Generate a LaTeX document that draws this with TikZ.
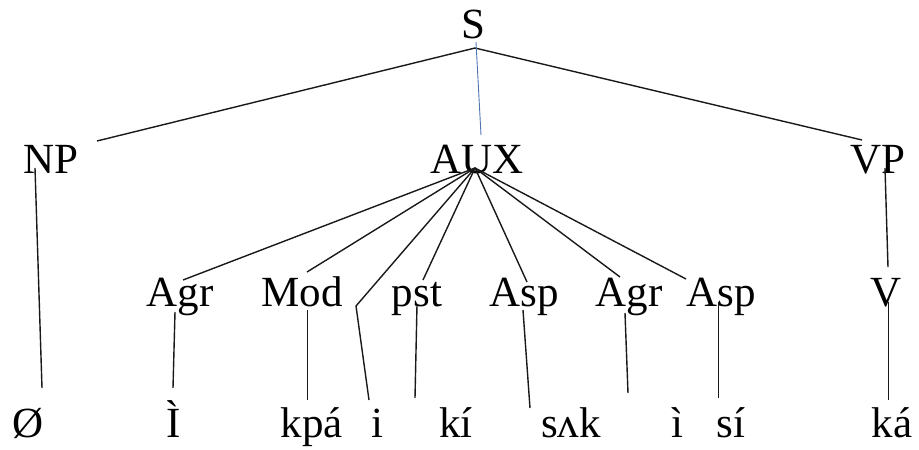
\documentclass[tikz,border=0pt]{standalone}
\usepackage{fontspec}
\setmainfont{Liberation Serif}
\definecolor{linkblue}{HTML}{4F74B0}
\tikzset{
  lbl/.style={anchor=base, inner sep=0pt, font=\fontsize{43}{50}\selectfont},
  branch/.style={line width=1.4pt, black!90},
  thinbranch/.style={line width=0.9pt, linkblue}
}
\begin{document}
\begin{tikzpicture}[x=1pt,y=-1pt]
\useasboundingbox (0,0) rectangle (919,450);

% category labels
\node[lbl] (S)    at (473,38)  {S};
\node[lbl] (NP)   at (51,173)  {NP};
\node[lbl] (AUX)  at (477,173) {AUX};
\node[lbl] (VP)   at (878,173) {VP};
\node[lbl] (Agr1) at (180,306) {Agr};
\node[lbl] (Mod)  at (302,306) {Mod};
\node[lbl] (pst)  at (417,306) {pst};
\node[lbl] (Asp1) at (524,306) {Asp};
\node[lbl] (Agr2) at (629,306) {Agr};
\node[lbl] (Asp2) at (721,306) {Asp};
\node[lbl] (V)    at (886,306) {V};

% morphemes
\node[lbl] (w1) at (28,437)  {Ø};
\node[lbl] (w2) at (174,437) {Ì};
\node[lbl] (w3) at (312,437) {kpá};
\node[lbl] (w4) at (377,437) {i};
\node[lbl] (w5) at (456,437) {kí};
\node[lbl] (w6) at (571,437) {sʌk};
\node[lbl] (w7) at (677,437) {ì};
\node[lbl] (w8) at (731,437) {sí};
\node[lbl] (w9) at (892,437) {ká};

% branch end points
\coordinate (s-apex) at (475,48);
\coordinate (s-blue) at (476,42);
\coordinate (np-up)  at (97,141);
\coordinate (aux-up) at (481,135);
\coordinate (vp-up)  at (862,140);
\coordinate (hub)    at (475,168);

\coordinate (agr1-up) at (183,280);
\coordinate (mod-up)  at (307,272);
\coordinate (bend)    at (356,306);
\coordinate (pst-up)  at (423,280);
\coordinate (asp1-up) at (527,282);
\coordinate (agr2-up) at (620,277);
\coordinate (asp2-up) at (686,279);

\coordinate (np-dn)   at (35,168);    \coordinate (w1-up) at (42,388);
\coordinate (agr1-dn) at (175,312);   \coordinate (w2-up) at (173,388);
\coordinate (mod-dn)  at (307.5,310); \coordinate (w3-up) at (307.5,400);
\coordinate (w4-up)   at (369,400);
\coordinate (pst-dn)  at (417,305);   \coordinate (w5-up) at (415,398);
\coordinate (asp1-dn) at (523,310);   \coordinate (w6-up) at (530,408);
\coordinate (agr2-dn) at (625,313);   \coordinate (w7-up) at (628,393);
\coordinate (asp2-dn) at (718.5,302); \coordinate (w8-up) at (718.5,398);
\coordinate (vp-dn)   at (885,168);   \coordinate (v-up)  at (888,267);
\coordinate (v-dn)    at (888.5,302); \coordinate (w9-up) at (888.5,400);

% S level
\draw[branch] (np-up) -- (s-apex) -- (vp-up);
\draw[thinbranch] (s-blue) -- (aux-up);

% AUX fan
\foreach \t in {agr1-up,mod-up,pst-up,asp1-up,agr2-up,asp2-up}
  \draw[branch] (hub) -- (\t);
\draw[branch] (hub) -- (bend) -- (w4-up);

% vertical branches
\draw[branch] (np-dn) -- (w1-up);
\draw[branch] (agr1-dn) -- (w2-up);
\draw[branch] (mod-dn) -- (w3-up);
\draw[branch] (pst-dn) -- (w5-up);
\draw[branch] (asp1-dn) -- (w6-up);
\draw[branch] (agr2-dn) -- (w7-up);
\draw[branch] (asp2-dn) -- (w8-up);
\draw[branch] (vp-dn) -- (v-up);
\draw[branch] (v-dn) -- (w9-up);
\end{tikzpicture}
\end{document}
